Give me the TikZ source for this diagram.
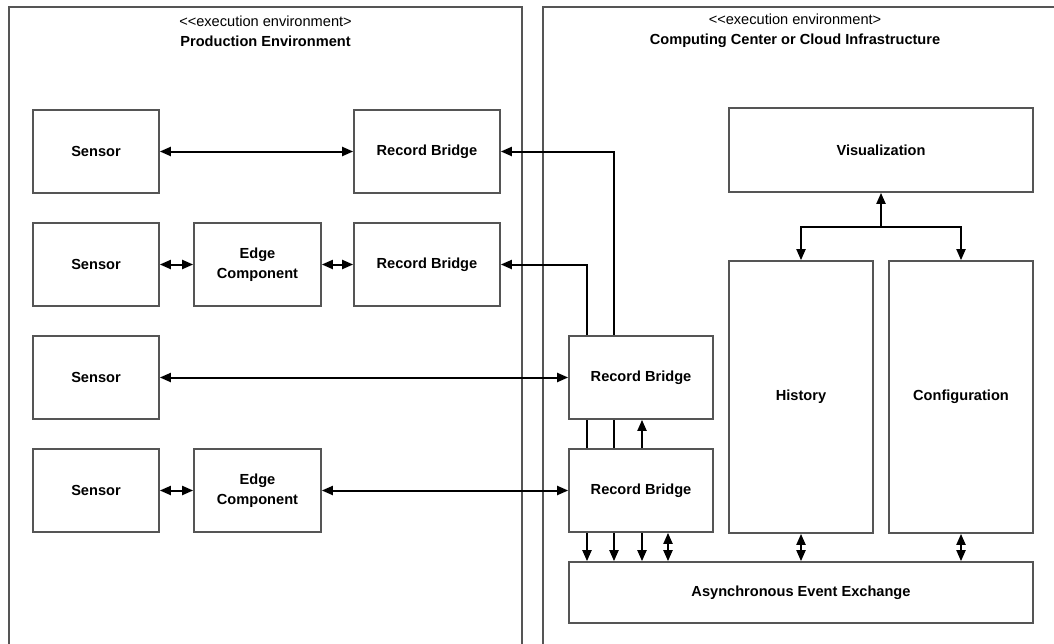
\documentclass[tikz,border=0pt]{standalone}
\usepackage{fontspec}
\setmainfont{Liberation Sans}
\usetikzlibrary{arrows.meta,backgrounds}
\definecolor{boxline}{HTML}{555555}
% stereotype brackets, kept apart so they do not merge into a guillemet
\newcommand{\stereoopen}{<\kern0pt<}
\begin{document}
\begin{tikzpicture}[x=1pt,y=-1pt,
  font=\fontsize{14.6}{20}\selectfont,
  block/.style={draw=boxline,line width=1.7pt,fill=white,inner sep=0pt,
    align=center,font=\fontsize{14.6}{20}\selectfont\bfseries},
  envbox/.style={draw=boxline,line width=1.7pt},
  tip/.tip={Triangle[length=11pt,width=9pt]},
  link/.style={draw=black,line width=2pt,tip-tip},
  oneway/.style={draw=black,line width=2pt,-tip}]
\useasboundingbox (0,0) rectangle (1054,643);
\clip (0,0) rectangle (1054,643);

% ---- execution environments ----
\begin{scope}[on background layer]
  \draw[envbox] (9,7) rectangle (522,680);
  \draw[envbox] (543,7) rectangle (1080,680);
\end{scope}
\node[align=center] (ltitle) at (265.5,31)
  {\stereoopen execution environment>\\\textbf{Production Environment}};
\node[align=center] (rtitle) at (795,31)
  {\stereoopen execution environment>\\\textbf{Computing Center or Cloud Infrastructure}};

% ---- production side ----
\node[block,minimum width=126pt,minimum height=83pt] (s1) at (96,151.5) {Sensor};
\node[block,minimum width=146pt,minimum height=83pt] (rb1) at (427,151.5) {Record Bridge};
\node[block,minimum width=126pt,minimum height=83pt] (s2) at (96,264.5) {Sensor};
\node[block,minimum width=127pt,minimum height=83pt] (ec2) at (257.5,264.5) {Edge\\Component};
\node[block,minimum width=146pt,minimum height=83pt] (rb2) at (427,264.5) {Record Bridge};
\node[block,minimum width=126pt,minimum height=83pt] (s3) at (96,377.5) {Sensor};
\node[block,minimum width=126pt,minimum height=83pt] (s4) at (96,490.5) {Sensor};
\node[block,minimum width=127pt,minimum height=83pt] (ec4) at (257.5,490.5) {Edge\\Component};

% ---- computing center side ----
\node[block,minimum width=304pt,minimum height=84pt] (vis) at (881,150) {Visualization};
\node[block,minimum width=144pt,minimum height=272pt] (hist) at (801,397) {History};
\node[block,minimum width=144pt,minimum height=272pt] (conf) at (961,397) {Configuration};
\node[block,minimum width=144pt,minimum height=83pt] (rbA) at (641,377.5) {Record Bridge};
\node[block,minimum width=144pt,minimum height=83pt] (rbB) at (641,490.5) {Record Bridge};
\node[block,minimum width=464pt,minimum height=61pt] (async) at (801,592.5) {Asynchronous Event Exchange};

% vertical routing lanes into the event exchange
\coordinate (laneA) at (587,0);
\coordinate (laneB) at (614,0);
\coordinate (laneC) at (642,0);
\coordinate (laneD) at (668,0);
\coordinate (fork) at (881,227);

% lanes that run behind the cloud-side record bridges
\begin{scope}[on background layer]
  \draw[link] (rb1.east) -| (laneB |- async.north);
  \draw[link] (rb2.east) -| (laneA |- async.north);
  \draw[link] (laneC |- rbA.south) -- (laneC |- async.north);
\end{scope}

% ---- connectors ----
\draw[link] (s1) -- (rb1);
\draw[link] (s2) -- (ec2);
\draw[link] (ec2) -- (rb2);
\draw[link] (s3) -- (rbA);
\draw[link] (s4) -- (ec4);
\draw[link] (ec4) -- (rbB);
\draw[link] (laneD |- rbB.south) -- (laneD |- async.north);
\draw[link] (hist) -- (hist |- async.north);
\draw[link] (conf) -- (conf |- async.north);
\draw[oneway] (fork) -- (vis.south);
\draw[oneway] (fork) -| (hist.north);
\draw[oneway] (fork) -| (conf.north);
\end{tikzpicture}
\end{document}
